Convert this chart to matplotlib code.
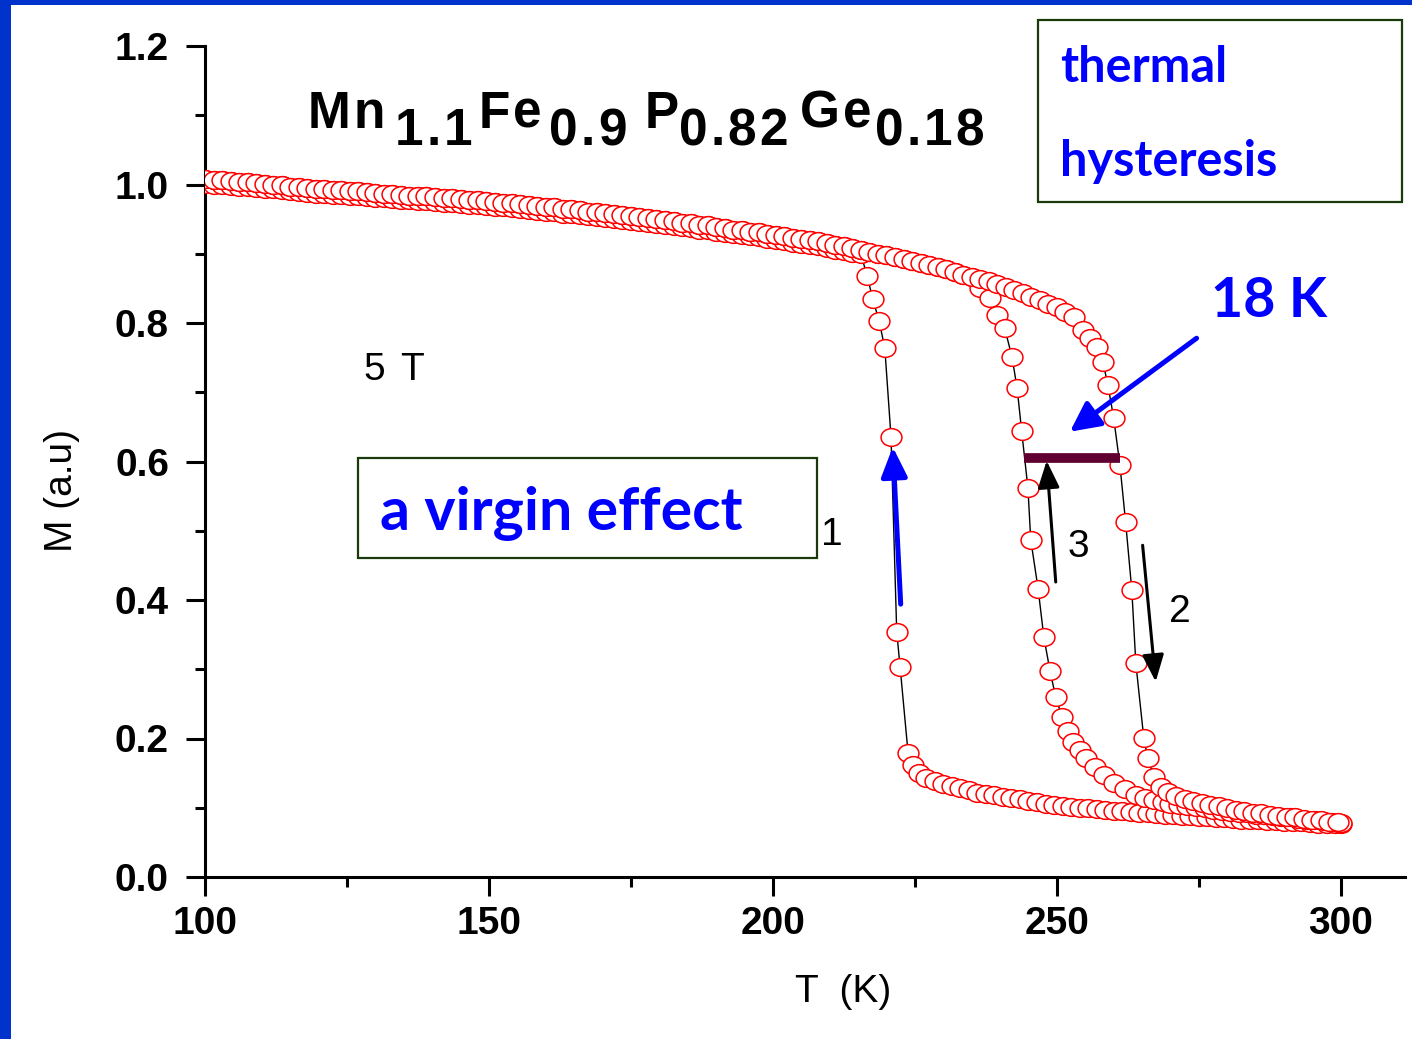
import numpy as np
import matplotlib
matplotlib.use("Agg")
import matplotlib.pyplot as plt
from matplotlib.path import Path
from matplotlib.patches import Rectangle
from matplotlib.font_manager import FontProperties, findfont
from matplotlib.ft2font import FT2Font

plt.rcParams['font.family'] = ['Liberation Sans', 'DejaVu Sans']

# =========================================================
# DATA
# =========================================================
# shared upper (ferromagnetic) branch, curves 2 and 3
t_up = [100.0, 101.5, 103.0, 104.5, 106.0, 107.5, 109.0, 110.5, 112.0, 113.5,
        115.0, 116.5, 118.0, 119.5, 121.0, 122.5, 124.0, 125.5, 127.0, 128.5,
        130.0, 131.5, 133.0, 134.5, 136.0, 137.5, 139.0, 140.5, 142.0, 143.5,
        145.0, 146.5, 148.0, 149.5, 151.0, 152.5, 154.0, 155.5, 157.0, 158.5,
        160.0, 161.5, 163.0, 164.5, 166.0, 167.5, 169.0, 170.5, 172.0, 173.5,
        175.0, 176.5, 178.0, 179.5, 181.0, 182.5, 184.0, 185.5, 187.0, 188.5,
        190.0, 191.5, 193.0, 194.5, 196.0, 197.5, 199.0, 200.5, 202.0, 203.5,
        205.0, 206.5, 208.0, 209.5, 211.0, 212.5, 214.0, 215.5, 217.0, 218.5,
        220.0, 221.5, 223.0, 224.5, 226.0, 227.5, 229.0, 230.5, 232.0, 233.5,
        235.0, 236.5, 238.0, 239.5, 241.0, 242.5, 244.0, 245.5, 247.0, 248.5,
        250.0, 251.5, 253.0]
m_up = [1.008, 1.007, 1.006, 1.005, 1.004, 1.003, 1.002, 1.001, 1.000, 0.999,
        0.997, 0.996, 0.995, 0.994, 0.993, 0.992, 0.992, 0.991, 0.990, 0.989,
        0.988, 0.987, 0.986, 0.985, 0.984, 0.983, 0.983, 0.982, 0.981, 0.980,
        0.979, 0.978, 0.977, 0.976, 0.975, 0.974, 0.973, 0.972, 0.970, 0.969,
        0.968, 0.967, 0.965, 0.964, 0.963, 0.961, 0.960, 0.959, 0.957, 0.956,
        0.954, 0.953, 0.952, 0.950, 0.949, 0.947, 0.945, 0.944, 0.942, 0.941,
        0.939, 0.937, 0.935, 0.934, 0.932, 0.931, 0.929, 0.927, 0.925, 0.923,
        0.921, 0.920, 0.918, 0.916, 0.913, 0.911, 0.908, 0.906, 0.903, 0.900,
        0.898, 0.895, 0.892, 0.890, 0.887, 0.884, 0.881, 0.878, 0.874, 0.870,
        0.867, 0.863, 0.860, 0.856, 0.852, 0.847, 0.843, 0.838, 0.833, 0.828,
        0.823, 0.816, 0.808]

# curve 1 (virgin)
m_a_up = [1.001, 1.000, 0.999, 0.998, 0.997, 0.996, 0.995, 0.994, 0.993, 0.992,
          0.990, 0.989, 0.988, 0.987, 0.986, 0.985, 0.985, 0.984, 0.983, 0.982,
          0.981, 0.980, 0.979, 0.978, 0.977, 0.976, 0.976, 0.975, 0.974, 0.973,
          0.972, 0.971, 0.970, 0.969, 0.968, 0.967, 0.966, 0.965, 0.963, 0.962,
          0.961, 0.960, 0.958, 0.957, 0.956, 0.954, 0.953, 0.952, 0.950, 0.949,
          0.947, 0.946, 0.945, 0.943, 0.942, 0.940, 0.938, 0.937, 0.935, 0.934,
          0.932, 0.930, 0.928, 0.927, 0.925, 0.924, 0.922, 0.920, 0.918, 0.916,
          0.914, 0.913, 0.911, 0.909, 0.906, 0.904, 0.901, 0.899]
t_a_drop = [216.6, 217.6, 218.7, 219.7, 220.8, 221.8, 222.4, 223.8, 224.6, 225.7]
m_a_drop = [0.868, 0.834, 0.803, 0.764, 0.635, 0.354, 0.303, 0.179, 0.162, 0.150]
t_a_low = [227.0, 228.5, 230.0, 231.5, 233.0, 234.5, 236.0, 237.5, 239.0, 240.5,
           242.0, 243.5, 245.0, 246.5, 248.0, 249.5, 251.0, 252.5, 254.0, 255.5,
           257.0, 258.5, 260.0, 261.5, 263.0, 264.5, 266.0, 267.5, 269.0, 270.5,
           272.0, 273.5, 275.0, 276.5, 278.0, 279.5, 281.0, 282.5, 284.0, 285.5,
           287.0, 288.5, 290.0, 291.5, 293.0, 294.5, 296.0, 297.5, 299.0, 300.0]
m_a_low = [0.143, 0.138, 0.134, 0.131, 0.128, 0.125, 0.122, 0.120, 0.118, 0.116,
           0.114, 0.112, 0.110, 0.108, 0.106, 0.104, 0.103, 0.101, 0.100, 0.099,
           0.098, 0.097, 0.096, 0.095, 0.094, 0.093, 0.092, 0.091, 0.090, 0.089,
           0.088, 0.088, 0.087, 0.086, 0.085, 0.085, 0.084, 0.083, 0.083, 0.082,
           0.081, 0.081, 0.080, 0.079, 0.079, 0.078, 0.077, 0.077, 0.076, 0.076]

# curve 2 (warming)
t_b_drop = [254.6, 255.8, 257.0, 258.1, 259.0, 260.0, 261.1, 262.1, 263.2, 263.9,
            265.3, 266.0, 267.1, 268.3, 269.5]
m_b_drop = [0.790, 0.778, 0.765, 0.744, 0.710, 0.663, 0.595, 0.513, 0.414, 0.309,
            0.201, 0.172, 0.144, 0.130, 0.123]
t_b_low = [271.0, 272.5, 274.0, 275.5, 277.0, 278.5, 280.0, 281.5, 283.0, 284.5,
           286.0, 287.5, 289.0, 290.5, 292.0, 293.5, 295.0, 296.5, 298.0, 299.5]
m_b_low = [0.117, 0.113, 0.110, 0.107, 0.104, 0.102, 0.099, 0.097, 0.095, 0.093,
           0.092, 0.090, 0.088, 0.087, 0.086, 0.084, 0.083, 0.082, 0.080, 0.079]

# curve 3 (cooling)
t_c_drop = [236.4, 238.2, 239.4, 240.8, 242.1, 243.0, 243.8, 244.9, 245.4, 246.7,
            247.7, 248.8, 249.8, 250.9, 251.9, 252.8, 254.0, 255.1, 256.7, 258.3,
            260.0, 262.0, 263.9, 265.5, 267.1, 268.6]
m_c_drop = [0.850, 0.836, 0.812, 0.793, 0.751, 0.706, 0.644, 0.562, 0.487, 0.416,
            0.347, 0.297, 0.260, 0.231, 0.211, 0.195, 0.183, 0.172, 0.159, 0.147,
            0.136, 0.127, 0.118, 0.114, 0.111, 0.108]
t_c_low = [270.0, 271.5, 273.0, 274.5, 276.0, 277.5, 279.0, 280.5, 282.0, 283.5,
           285.0, 286.5, 288.0, 289.5, 291.0, 292.5, 294.0, 295.5, 297.0, 298.5, 300.0]
m_c_low = [0.106, 0.104, 0.102, 0.101, 0.099, 0.097, 0.096, 0.094, 0.093, 0.092,
           0.090, 0.089, 0.088, 0.087, 0.086, 0.084, 0.083, 0.082, 0.081, 0.080, 0.078]

# annotations (data coordinates)
bar_t = [244.2, 261.1]
bar_m = [0.605, 0.605]
arrow_1 = [(222.5, 0.394), (221.1, 0.621)]   # tail, tip
arrow_2 = [(265.1, 0.479), (267.4, 0.282)]
arrow_3 = [(249.8, 0.426), (248.2, 0.601)]
arrow_18k = [(274.6, 0.778), (252.3, 0.643)]

x_ticks = [100, 150, 200, 250, 300]
y_ticks = [0.0, 0.2, 0.4, 0.6, 0.8, 1.0, 1.2]

# formula pieces: (text, subscript?)
formula = [("Mn", 0), ("1.1", 1), ("Fe", 0), ("0.9", 1),
           ("P", 0), ("0.82", 1), ("Ge", 0), ("0.18", 1)]

# =========================================================
# ASSEMBLE CURVES
# =========================================================
n_a = len(m_a_up)
n_c = 91
curve_a = (t_up[:n_a] + t_a_drop + t_a_low, m_a_up + m_a_drop + m_a_low)
curve_b = (t_up + t_b_drop + t_b_low, m_up + m_b_drop + m_b_low)
curve_c = (t_up[:n_c] + t_c_drop + t_c_low, m_up[:n_c] + m_c_drop + m_c_low)
curves = [curve_a, curve_c, curve_b]

# =========================================================
# FIGURE
# =========================================================
W, H = 1412, 1039
fig = plt.figure(figsize=(W / 100, H / 100), dpi=100, facecolor="white")
ax = fig.add_axes([205 / W, 1 - 877 / H, 1200 / W, 831 / H])


def px(x, y):
    return x / W, 1 - y / H


circ = Path.unit_circle()
ellipse = Path(circ.vertices * np.array([1.0, 0.85]), circ.codes)

for t, m in curves:
    ax.plot(t, m, color="black", lw=1.0, zorder=2)
for t, m in curves:
    ax.plot(t, m, ls="none", marker=ellipse, ms=15, mfc="white",
            mec="#ff0000", mew=1.1, zorder=3)

ax.plot(bar_t, bar_m, color="#600030", lw=7, solid_capstyle="butt", zorder=4)


def arrow(pts, color, lw, ms, hl, hw):
    (x0, y0), (x1, y1) = pts
    ax.annotate("", xy=(x1, y1), xytext=(x0, y0),
                arrowprops=dict(arrowstyle=f"-|>,head_length={hl},head_width={hw}",
                                color=color, lw=lw, mutation_scale=ms,
                                shrinkA=0, shrinkB=0),
                annotation_clip=False, zorder=5)


arrow(arrow_1, "#0000ff", 3.6, 36, 0.5, 0.22)
arrow(arrow_18k, "#0000ff", 3.6, 36, 0.5, 0.25)
arrow(arrow_3, "black", 2.2, 30, 0.55, 0.22)
arrow(arrow_2, "black", 2.2, 30, 0.55, 0.22)

# axes styling
ax.set_xlim(100, 311.3)
ax.set_ylim(0, 1.2)
ax.spines["top"].set_visible(False)
ax.spines["right"].set_visible(False)
for s in ["left", "bottom"]:
    ax.spines[s].set_linewidth(2.2)
ax.set_xticks(x_ticks)
ax.set_xticks([125, 175, 225, 275], minor=True)
ax.set_yticks(y_ticks)
ax.set_yticklabels([f"{v:.1f}" for v in y_ticks])
ax.set_yticks([0.1, 0.3, 0.5, 0.7, 0.9, 1.1], minor=True)
ax.tick_params(which="major", direction="out", length=14, width=2.2, labelsize=28)
ax.tick_params(which="minor", direction="out", length=7, width=2.2)
ax.tick_params(axis="y", which="major", pad=12)
ax.tick_params(axis="x", which="major", pad=7)
for lab in ax.get_xticklabels() + ax.get_yticklabels():
    lab.set_fontweight("bold")

# axis labels
fig.text(*px(843, 992), "T  (K)", fontsize=28, ha="center", va="center")
fig.text(*px(62, 490), "M (a.u)", fontsize=28, ha="center", va="center",
         rotation=90)

# formula title: letter-spaced, subscripts as large as the element symbols
TITLE_PT = 37
title_font = FT2Font(findfont(FontProperties(family="Liberation Sans",
                                             weight="bold")))
title_font.set_size(TITLE_PT, 100)
piece_left = [308, 395, 479, 549, 645, 679, 800, 875]
for (piece, sub), x in zip(formula, piece_left):
    for ch in piece:
        fig.text(*px(x, 145 if sub else 128), ch, fontsize=TITLE_PT,
                 fontweight="bold", ha="left", va="baseline")
        adv = title_font.load_char(ord(ch)).linearHoriAdvance / 65536
        x += adv + 3

# small labels
fig.text(*px(374, 380), "5", fontsize=28, ha="center", va="baseline")
fig.text(*px(412, 380), "T", fontsize=28, ha="center", va="baseline")
fig.text(*px(832, 545), "1", fontsize=28, ha="center", va="baseline")
fig.text(*px(1078, 557), "3", fontsize=28, ha="center", va="baseline")
fig.text(*px(1180, 622), "2", fontsize=28, ha="center", va="baseline")

# blue annotations
blue_font = ["Lato", "DejaVu Sans"]
fig.text(*px(380, 530), "a virgin effect", fontsize=42.5, fontweight="bold",
         color="#0000ff", family=blue_font, ha="left", va="baseline")
fig.text(*px(1060, 82), "thermal", fontsize=35, fontweight="bold",
         color="#0000ff", family=blue_font, ha="left", va="baseline")
fig.text(*px(1060, 176), "hysteresis", fontsize=35, fontweight="bold",
         color="#0000ff", family=blue_font, ha="left", va="baseline")
fig.text(*px(1211, 317), "18 K", fontsize=40, fontweight="bold",
         color="#0000ff", family=blue_font, ha="left", va="baseline")

# boxes
for (x0, y0, x1, y1) in [(358, 458, 817, 558), (1038, 20, 1402, 202)]:
    fig.patches.append(Rectangle(px(x0, y1), (x1 - x0) / W, (y1 - y0) / H,
                                 transform=fig.transFigure, fill=False,
                                 ec="#1a3a0a", lw=1.6))

# slide frame strips
fig.patches.append(Rectangle((0, 0), 11 / W, 1, transform=fig.transFigure,
                             color="#0033cc", lw=0))
fig.patches.append(Rectangle((0, 1 - 5 / H), 1, 5 / H, transform=fig.transFigure,
                             color="#0033cc", lw=0))

fig.savefig("out.png", dpi=100, facecolor="white")
